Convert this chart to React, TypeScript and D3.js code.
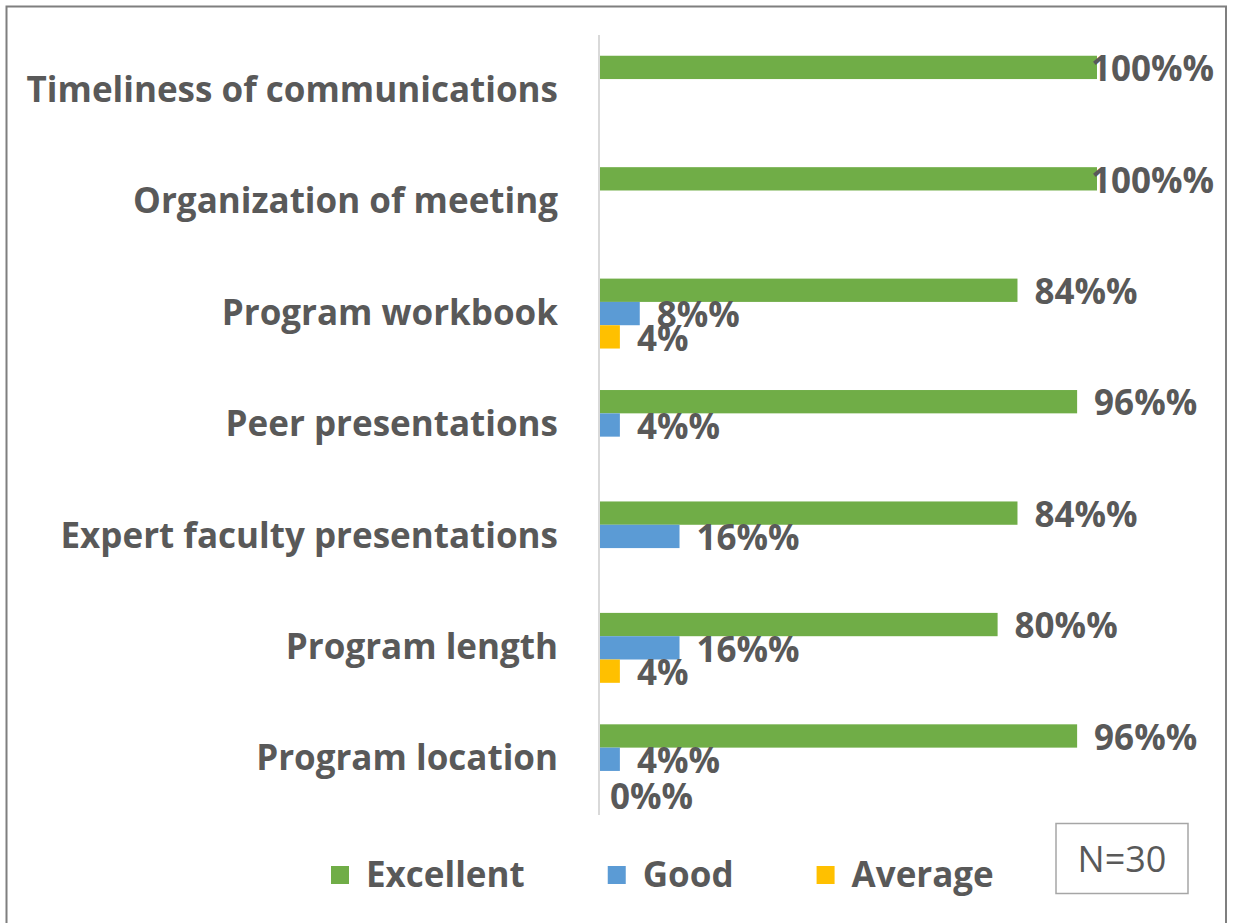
import React from "react";
import * as d3 from "d3";

const categories = [
  "Timeliness of communications",
  "Organization of meeting",
  "Program workbook",
  "Peer presentations",
  "Expert faculty presentations",
  "Program length",
  "Program location",
];

const seriesNames = ["Excellent", "Good", "Average"];
const seriesColors = ["#70ad47", "#5b9bd5", "#ffc000"];

const excellentValues = [100, 100, 84, 96, 84, 80, 96];
const goodValues: (number | null)[] = [null, null, 8, 4, 16, 16, 4];
const averageValues: (number | null)[] = [null, null, 4, null, null, 4, 0];

const excellentLabels = ["100%%", "100%%", "84%%", "96%%", "84%%", "80%%", "96%%"];
const goodLabels = ["", "", "8%%", "4%%", "16%%", "16%%", "4%%"];
const averageLabels = ["", "", "4%", "", "", "4%", "0%%"];

const nLabel = "N=30";

const W = 1234;
const H = 923;
const TEXT = "#595959";
const FONT = "'Open Sans', sans-serif";

function measure(text: string, font: string): number {
  const c = document.createElement("canvas");
  const ctx = c.getContext("2d")!;
  ctx.font = font;
  return ctx.measureText(text).width;
}

export default function App() {
  const seriesValues = [excellentValues, goodValues, averageValues];
  const seriesLabels = [excellentLabels, goodLabels, averageLabels];

  const x = d3.scaleLinear().domain([0, 100]).range([600, 1097]);
  const y = d3.scaleBand<string>().domain(categories).range([35, 815]).padding(0);
  const inner = d3
    .scaleBand<string>()
    .domain(seriesNames)
    .range([0, y.bandwidth()])
    .paddingInner(0)
    .paddingOuter(0.89);

  const labelFont = `bold 35px ${FONT}`;
  const labelRightLimit = 1214;

  // legend layout
  const legendFont = `bold 35px ${FONT}`;
  let lx = 331;
  const legendItems = seriesNames.map((name, i) => {
    const tw = measure(name, legendFont);
    const item = { name, color: seriesColors[i], x: lx };
    lx += 18 + 17 + tw + 83;
    return item;
  });

  return (
    <svg
      width={W}
      height={H}
      style={{ position: "absolute", left: 0, top: 0, background: "#fff" }}
      fontFamily={FONT}
    >
      <rect x={0} y={0} width={W} height={H} fill="#fff" />
      <rect x={6.5} y={6.5} width={1219.5} height={940} fill="none" stroke="#7f7f7f" strokeWidth={2} />

      {/* bars */}
      {seriesNames.map((s, si) =>
        categories.map((c, ci) => {
          const v = seriesValues[si][ci];
          if (v === null || v === undefined) return null;
          return (
            <rect
              key={`b-${s}-${c}`}
              x={x(0)}
              y={(y(c) as number) + (inner(s) as number)}
              width={x(v) - x(0)}
              height={inner.bandwidth()}
              fill={seriesColors[si]}
            />
          );
        })
      )}

      {/* axis line */}
      <line x1={x(0) - 1} x2={x(0) - 1} y1={y.range()[0]} y2={y.range()[1]} stroke="#d9d9d9" strokeWidth={2} />

      {/* category labels */}
      {categories.map((c) => (
        <text
          key={`c-${c}`}
          x={558}
          y={(y(c) as number) + y.bandwidth() / 2}
          dy="0.32em"
          textAnchor="end"
          fontSize={35}
          fontWeight="bold"
          fill={TEXT}
        >
          {c}
        </text>
      ))}

      {/* data labels */}
      {seriesNames.map((s, si) =>
        categories.map((c, ci) => {
          const v = seriesValues[si][ci];
          const lab = seriesLabels[si][ci];
          if (v === null || v === undefined || !lab) return null;
          const tw = measure(lab, labelFont);
          let lx0 = x(v) + 17;
          if (lx0 + tw > labelRightLimit) lx0 = labelRightLimit - tw;
          let cy = (y(c) as number) + (inner(s) as number) + inner.bandwidth() / 2 + 1.5;
          if (v === 0) {
            // zero-length bar: label sits just right of the axis, nudged down
            lx0 = x(0) + 10;
            cy += 13;
          }
          return (
            <text
              key={`l-${s}-${c}`}
              x={lx0}
              y={cy}
              dy="0.35em"
              fontSize={35}
              fontWeight="bold"
              fill={TEXT}
            >
              {lab}
            </text>
          );
        })
      )}

      {/* legend */}
      {legendItems.map((it) => (
        <g key={`lg-${it.name}`}>
          <rect x={it.x} y={866} width={18} height={18} fill={it.color} />
          <text x={it.x + 35} y={875} dy="0.35em" fontSize={35} fontWeight="bold" fill={TEXT}>
            {it.name}
          </text>
        </g>
      ))}

      {/* N box */}
      <rect x={1056} y={823.5} width={132} height={70} fill="#fff" stroke="#a6a6a6" strokeWidth={1.5} />
      <text x={1122} y={859} dy="0.35em" textAnchor="middle" fontSize={36} fill={TEXT}>
        {nLabel}
      </text>
    </svg>
  );
}
